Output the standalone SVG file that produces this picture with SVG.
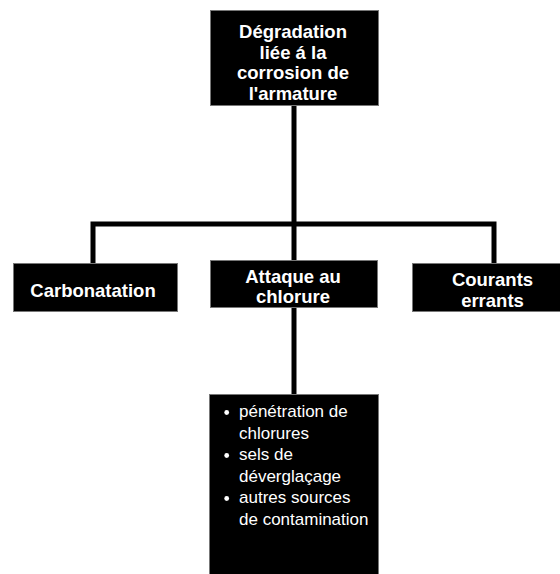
<svg xmlns="http://www.w3.org/2000/svg" width="560" height="574" viewBox="0 0 560 574">
<style>
.box{fill:#000;stroke:#777;stroke-width:1}
.t{font-family:"Liberation Sans",Arial,sans-serif;font-weight:bold;font-size:18.5px;fill:#fff;text-anchor:middle}
.b{font-family:"Liberation Sans",Arial,sans-serif;font-size:17px;fill:#fff}
.con{fill:none;stroke:#000;stroke-width:5;stroke-linejoin:miter}
</style>
<rect width="560" height="574" fill="#fff"/>
<g id="connectors">
<path class="con" d="M294,105 V261"/>
<path class="con" d="M93,264 V224 H494 V264"/>
<path class="con" d="M294,307 V395"/>
</g>
<g id="n-root">
<rect class="box" x="210.5" y="10.5" width="168" height="95"/>
<text class="t" x="293"><tspan x="293" y="38">Dégradation</tspan><tspan x="293" y="58.5">liée á la</tspan><tspan x="293" y="79">corrosion de</tspan><tspan x="293" y="99.5">l'armature</tspan></text>
</g>
<g id="n-carbonatation">
<rect class="box" x="13.5" y="263.5" width="164" height="48"/>
<text class="t" x="93" y="297">Carbonatation</text>
</g>
<g id="n-attaque">
<rect class="box" x="210.5" y="260.5" width="167" height="47"/>
<text class="t"><tspan x="293" y="282.5">Attaque au</tspan><tspan x="293" y="302.5">chlorure</tspan></text>
</g>
<g id="n-courants">
<rect class="box" x="412.5" y="263.5" width="150" height="48"/>
<text class="t"><tspan x="492.5" y="286">Courants</tspan><tspan x="492.5" y="306.5">errants</tspan></text>
</g>
<g id="n-details">
<rect class="box" x="209.5" y="394.5" width="169" height="185"/>
<circle cx="226.7" cy="412.5" r="2.4" fill="#fff"/>
<circle cx="226.7" cy="455.5" r="2.4" fill="#fff"/>
<circle cx="226.7" cy="498.5" r="2.4" fill="#fff"/>
<text class="b"><tspan x="239" y="417">pénétration de</tspan><tspan x="239" y="438.5">chlorures</tspan><tspan x="239" y="460">sels de</tspan><tspan x="239" y="481.5">déverglaçage</tspan><tspan x="239" y="503">autres sources</tspan><tspan x="239" y="524.5">de contamination</tspan></text>
</g>
</svg>
